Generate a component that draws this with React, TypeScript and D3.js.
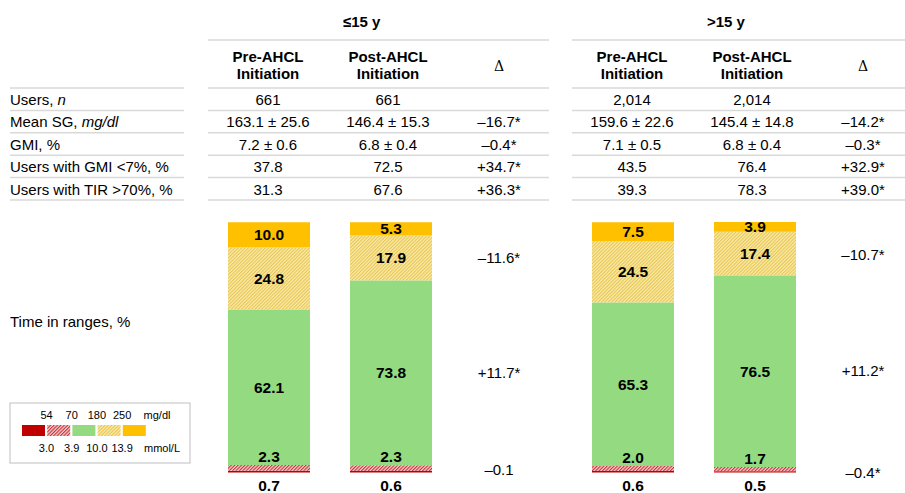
import React from "react";
import * as d3 from "d3";

// ---------- DATA ----------
const groups = ["≤15 y", ">15 y"];
const colHeaders = [["Pre-AHCL", "Initiation"], ["Post-AHCL", "Initiation"], ["Δ"]];
const rowLabels: [string, string][] = [
  ["Users, ", "n"],
  ["Mean SG, ", "mg/dl"],
  ["GMI, %", ""],
  ["Users with GMI <7%, %", ""],
  ["Users with TIR >70%, %", ""],
];
// table values [group][row] = [pre, post, delta]
const tableLE15 = [
  ["661", "661", ""],
  ["163.1 ± 25.6", "146.4 ± 15.3", "–16.7*"],
  ["7.2 ± 0.6", "6.8 ± 0.4", "–0.4*"],
  ["37.8", "72.5", "+34.7*"],
  ["31.3", "67.6", "+36.3*"],
];
const tableGT15 = [
  ["2,014", "2,014", ""],
  ["159.6 ± 22.6", "145.4 ± 14.8", "–14.2*"],
  ["7.1 ± 0.5", "6.8 ± 0.4", "–0.3*"],
  ["43.5", "76.4", "+32.9*"],
  ["39.3", "78.3", "+39.0*"],
];
const tables = [tableLE15, tableGT15];

// time in ranges: order bottom -> top: <54, 54-70, 70-180, 180-250, >250
const rangeKeys = ["vlow", "low", "tir", "high", "vhigh"];
const tirLE15Pre = [0.7, 2.3, 62.1, 24.8, 10.0];
const tirLE15Post = [0.6, 2.3, 73.8, 17.9, 5.3];
const tirGT15Pre = [0.6, 2.0, 65.3, 24.5, 7.5];
const tirGT15Post = [0.5, 1.7, 76.5, 17.4, 3.9];
const tirData = [
  [tirLE15Pre, tirLE15Post],
  [tirGT15Pre, tirGT15Post],
];
const tirDeltaLE15 = ["–11.6*", "+11.7*", "–0.1"];
const tirDeltaGT15 = ["–10.7*", "+11.2*", "–0.4*"];
const tirDeltas = [tirDeltaLE15, tirDeltaGT15];

const legendMg = ["54", "70", "180", "250"];
const legendMmol = ["3.0", "3.9", "10.0", "13.9"];

// ---------- LAYOUT ----------
const W = 905;
const H = 493;
const FONT = "'Liberation Sans', Arial, sans-serif";
const fills: Record<string, string> = {
  vlow: "#C00000",
  low: "url(#hatchRed)",
  tir: "#93DA80",
  high: "url(#hatchYellow)",
  vhigh: "#FFC000",
};
const lineColor = "#D9D9D9";

const groupX = d3.scaleOrdinal<string, number>().domain(groups).range([208, 572]);
const groupEnd = d3.scaleOrdinal<string, number>().domain(groups).range([549, 905]);
const colX = d3.scaleOrdinal<string, number>().domain(["pre", "post", "delta"]).range([60, 180, 291]);
const barX = d3.scaleOrdinal<string, number>().domain(["pre", "post"]).range([61, 183]);
const rowY = d3.scaleLinear().domain([0, 5]).range([88, 200]);
const y = d3.scaleLinear().domain([0, 100]).range([472.5, 222]);
const BAR_W = 82;

export default function App() {
  return (
    <svg
      width={W}
      height={H}
      style={{ position: "absolute", left: 0, top: 0, background: "#fff", display: "block" }}
      fontFamily={FONT}
    >
      <defs>
        <pattern id="hatchYellow" width="2.4" height="2.4" patternUnits="userSpaceOnUse" patternTransform="rotate(45)">
          <rect width="2.4" height="2.4" fill="#FBEBAA" />
          <rect width="1.1" height="2.4" fill="#E6C552" />
        </pattern>
        <pattern id="hatchRed" width="2.4" height="2.4" patternUnits="userSpaceOnUse" patternTransform="rotate(45)">
          <rect width="2.4" height="2.4" fill="#F4CFCF" />
          <rect width="1.1" height="2.4" fill="#C63038" />
        </pattern>
      </defs>

      {/* row labels */}
      <line x1={10} x2={184} y1={rowY(0)} y2={rowY(0)} stroke={lineColor} strokeWidth={1.5} />
      {rowLabels.map((r, i) => (
        <g key={i}>
          <text x={10} y={rowY(i) + 17} fontSize={15} fill="#000">
            {r[0]}
            {r[1] && <tspan fontStyle="italic">{r[1]}</tspan>}
          </text>
          <line x1={10} x2={184} y1={rowY(i + 1)} y2={rowY(i + 1)} stroke={lineColor} strokeWidth={1.5} />
        </g>
      ))}
      <text x={10} y={327} fontSize={15} fill="#000">Time in ranges, %</text>

      {groups.map((g, gi) => {
        const gx = groupX(g);
        const ge = groupEnd(g);
        const tab = tables[gi];
        return (
          <g key={g}>
            <text x={gx + 135} y={27} fontSize={15} fontWeight="bold" fill="#000">{g}</text>
            <line x1={gx} x2={ge} y1={40} y2={40} stroke={lineColor} strokeWidth={1.5} />
            {["pre", "post", "delta"].map((c, ci) => {
              const h = colHeaders[ci];
              return h.length === 2 ? (
                <text key={c} x={gx + colX(c)} textAnchor="middle" fontSize={15} fontWeight="bold" fill="#000">
                  <tspan x={gx + colX(c)} y={62}>{h[0]}</tspan>
                  <tspan x={gx + colX(c)} y={79}>{h[1]}</tspan>
                </text>
              ) : (
                <text key={c} x={gx + colX(c)} y={71} textAnchor="middle" fontSize={14} fontFamily="'DejaVu Serif', serif" fill="#000">
                  {h[0]}
                </text>
              );
            })}
            <line x1={gx} x2={ge} y1={rowY(0)} y2={rowY(0)} stroke={lineColor} strokeWidth={1.5} />
            {tab.map((row, ri) => (
              <g key={ri}>
                {["pre", "post", "delta"].map((c, ci) => (
                  <text key={c} x={gx + colX(c)} y={rowY(ri) + 17} textAnchor="middle" fontSize={15} fill="#000">
                    {row[ci]}
                  </text>
                ))}
                <line x1={gx} x2={ge} y1={rowY(ri + 1)} y2={rowY(ri + 1)} stroke={lineColor} strokeWidth={1.5} />
              </g>
            ))}

            {/* stacked bars */}
            {["pre", "post"].map((b, bi) => {
              const vals = tirData[gi][bi];
              const stackGen = d3.stack<number[], string>()
                .keys(rangeKeys)
                .value((d, k) => d[rangeKeys.indexOf(k)]);
              const series = stackGen([vals]);
              const cx = gx + barX(b);
              return (
                <g key={b}>
                  {series.map((s) => {
                    const [y0, y1] = s[0];
                    return (
                      <rect
                        key={s.key}
                        x={cx - BAR_W / 2}
                        width={BAR_W}
                        y={y(y1)}
                        height={y(y0) - y(y1)}
                        fill={fills[s.key]}
                      />
                    );
                  })}
                  {series.map((s, si) => {
                    const [y0, y1] = s[0];
                    const v = vals[si];
                    let ty: number;
                    if (s.key === "vlow") ty = y(y0) + 18;
                    else if (s.key === "low") ty = y(y1) - 3;
                    else ty = (y(y0) + y(y1)) / 2 + 5.5;
                    return (
                      <text key={"t" + s.key} x={cx} y={ty} textAnchor="middle" fontSize={15.5} fontWeight="bold" fill="#000">
                        {v.toFixed(1)}
                      </text>
                    );
                  })}
                </g>
              );
            })}
            {(() => {
              const pre = tirData[gi][0];
              const post = tirData[gi][1];
              const aboveMid = (vals: number[]) => y(100 - (vals[3] + vals[4]) / 2);
              const yAbove = (aboveMid(pre) + aboveMid(post)) / 2;
              const yTir = y(post[0] + post[1] + post[2] / 2);
              const yBelow = y(0);
              const ys = [yAbove + 5, yTir + 5, yBelow + 2 + gi * 3];
              return tirDeltas[gi].map((t, ti) => (
                <text key={ti} x={gx + colX("delta")} y={ys[ti]} textAnchor="middle" fontSize={15} fill="#000">
                  {t}
                </text>
              ));
            })()}
          </g>
        );
      })}

      {/* legend */}
      <rect x={10} y={403} width={180} height={60} fill="#fff" stroke="#BFBFBF" strokeWidth={1} />
      {rangeKeys.map((k, i) => (
        <rect key={k} x={22 + i * 25.2} y={425} width={23} height={11} fill={fills[k]} />
      ))}
      {legendMg.map((t, i) => (
        <text key={"mg" + t} x={46.5 + i * 25.2} y={419} textAnchor="middle" fontSize={11} fill="#000">{t}</text>
      ))}
      <text x={157} y={419} textAnchor="middle" fontSize={11} fill="#000">mg/dl</text>
      {legendMmol.map((t, i) => (
        <text key={"mm" + t} x={46.5 + i * 25.2} y={452} textAnchor="middle" fontSize={11} fill="#000">{t}</text>
      ))}
      <text x={162} y={452} textAnchor="middle" fontSize={11} fill="#000">mmol/L</text>
    </svg>
  );
}
